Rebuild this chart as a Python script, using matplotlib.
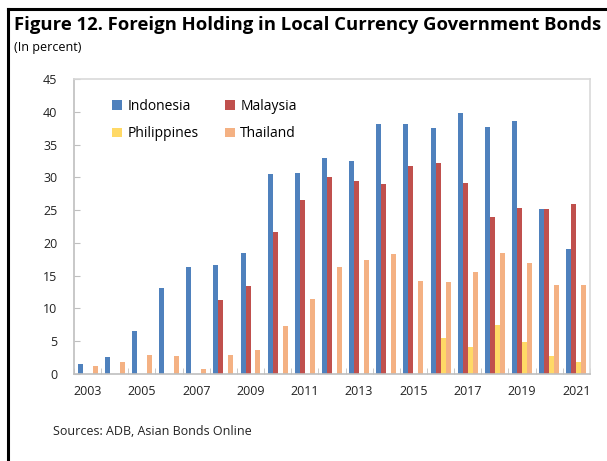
import numpy as np
import matplotlib
matplotlib.use('Agg')
import matplotlib.pyplot as plt
from matplotlib.lines import Line2D

plt.rcParams['font.family'] = ['Open Sans', 'DejaVu Sans']

years = list(range(2003, 2022))
indonesia = [1.5, 2.6, 6.5, 13.1, 16.3, 16.6, 18.5, 30.5, 30.7, 32.9, 32.5, 38.1, 38.2,
             37.5, 39.8, 37.7, 38.6, 25.1, 19.1]
malaysia = [0, 0, 0, 0, 0, 11.3, 13.4, 21.6, 26.5, 30.1, 29.4, 29.0, 31.7,
            32.2, 29.2, 23.9, 25.3, 25.1, 25.9]
philippines = [0, 0, 0, 0, 0, 0, 0, 0, 0, 0, 0, 0, 0,
               5.5, 4.1, 7.5, 4.9, 2.8, 1.9]
thailand = [1.2, 1.9, 2.9, 2.7, 0.8, 2.85, 3.6, 7.3, 11.4, 16.3, 17.4, 18.3, 14.2,
            14.1, 15.6, 18.4, 16.9, 13.5, 13.6]

series = [("Indonesia", indonesia, "#4F81BD"),
          ("Malaysia", malaysia, "#C0504D"),
          ("Philippines", philippines, "#FFD966"),
          ("Thailand", thailand, "#F4B183")]

fig = plt.figure(figsize=(6.07, 4.61), dpi=100)
ax = fig.add_axes([0.1219, 0.1887, 0.850, 0.640])

x = np.arange(len(years))
w = 0.184
bars = {}
for i, (name, vals, col) in enumerate(series):
    bars[name] = ax.bar(x + (i - 1.5) * w, vals, w, color=col, label=name, zorder=2)

ax.set_xlim(-0.5, len(years) - 0.5)
ax.set_ylim(0, 45)
ax.set_yticks(range(0, 46, 5))
ax.set_xticks(x[::2])
ax.set_xticklabels([str(y) for y in years[::2]])
ax.set_xticks(np.arange(-0.5, len(years), 1), minor=True)
ax.tick_params(axis='x', which='major', length=0, labelsize=9, pad=8, colors='#222222')
ax.tick_params(axis='x', which='minor', length=4, direction='in', color='#bfbfbf')
ax.tick_params(axis='y', length=4, direction='in', color='#bfbfbf', labelsize=9, pad=12,
               labelcolor='#222222')

for s in ['top', 'right']:
    ax.spines[s].set_color('#d9d9d9')
    ax.spines[s].set_linewidth(1.2)
for s in ['left', 'bottom']:
    ax.spines[s].set_color('#bfbfbf')
    ax.spines[s].set_linewidth(1.2)

# column-major fill -> rows: Indonesia/Malaysia, Philippines/Thailand
order = ["Indonesia", "Philippines", "Malaysia", "Thailand"]
ax.legend([bars[n] for n in order], order, ncol=2, loc='upper left',
          bbox_to_anchor=(0.05, 0.975), frameon=False,
          fontsize=10, handlelength=0.7, handleheight=0.7, handletextpad=0.4,
          columnspacing=1.9, labelspacing=0.9)

fig.text(14 / 607, 1 - 25 / 461, "Figure 12. Foreign Holding in Local Currency Government Bonds",
         fontsize=13.3, fontweight='bold', va='center', ha='left')
fig.text(14 / 607, 1 - 47 / 461, "(In percent)", fontsize=9, va='center', ha='left')
fig.text(53 / 607, 1 - 431 / 461, "Sources: ADB, Asian Bonds Online", fontsize=9,
         va='center', ha='left', color='#222222')

# frame around figure (left and top)
fig.add_artist(Line2D([8 / 607, 8 / 607], [0, 1 - 9 / 461], transform=fig.transFigure,
                      color='black', lw=2.2))
fig.add_artist(Line2D([8 / 607, 1], [1 - 9 / 461, 1 - 9 / 461], transform=fig.transFigure,
                      color='black', lw=2.2))

fig.savefig('out.png', dpi=100)
